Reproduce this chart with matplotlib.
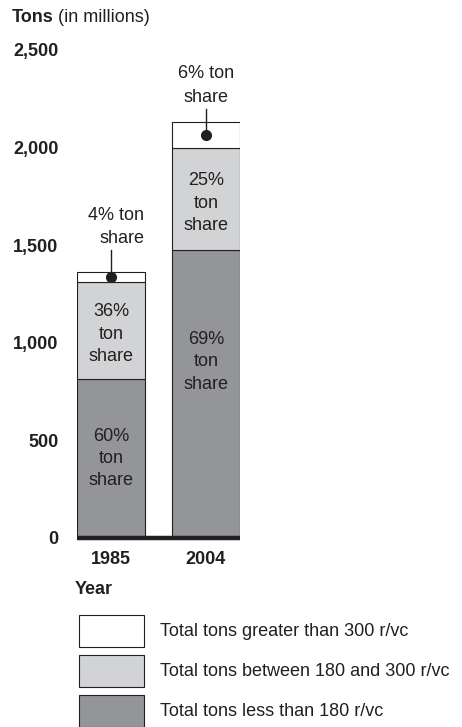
import matplotlib
matplotlib.use("Agg")
import matplotlib.pyplot as plt
from matplotlib.patches import Rectangle

plt.rcParams['font.family'] = ['Liberation Sans', 'DejaVu Sans']

years = ["1985", "2004"]
low = [816, 1474]        # < 180 r/vc
mid = [497, 524]         # 180-300 r/vc
high = [51, 131]         # > 300 r/vc
low_lbl = ["60%\nton\nshare", "69%\nton\nshare"]
mid_lbl = ["36%\nton\nshare", "25%\nton\nshare"]
high_lbl = ["4% ton\nshare", "6% ton\nshare"]
yticks = [0, 500, 1000, 1500, 2000, 2500]
ytick_labels = ["0", "500", "1,000", "1,500", "2,000", "2,500"]
legend_labels = ["Total tons greater than 300 r/vc",
                 "Total tons between 180 and 300 r/vc",
                 "Total tons less than 180 r/vc"]

C_DARK = "#939598"
C_LIGHT = "#d1d3d4"
C_WHITE = "#ffffff"
C_INK = "#231f20"
FS = 13

W, H = 462, 727
fig = plt.figure(figsize=(W / 100, H / 100), dpi=100)

def fx(px):
    return px / W

def fy(py):
    return 1 - py / H

ax = fig.add_axes([fx(77), fy(538), fx(240) - fx(77), fy(50) - fy(538)])
x = [0, 1]
bw = 0.72
ax.bar(x, low, bw, color=C_DARK, edgecolor=C_INK, linewidth=0.8)
ax.bar(x, mid, bw, bottom=low, color=C_LIGHT, edgecolor=C_INK, linewidth=0.8)
bot2 = [a + b for a, b in zip(low, mid)]
ax.bar(x, high, bw, bottom=bot2, color=C_WHITE, edgecolor=C_INK, linewidth=0.8)
ax.set_xlim(-0.36, 1.36)
ax.set_ylim(0, 2500)
for s in ax.spines.values():
    s.set_visible(False)
ax.axhline(0, color=C_INK, linewidth=3.2, solid_capstyle='butt', clip_on=False)
ax.set_yticks(yticks)
ax.set_yticklabels(ytick_labels, fontsize=FS, fontweight='bold', color=C_INK)
ax.set_xticks(x)
ax.set_xticklabels(years, fontsize=FS, fontweight='bold', color=C_INK)
ax.tick_params(axis='y', length=0, pad=13.5)
ax.tick_params(axis='x', length=0, pad=9)

LS = 1.4
# segment labels
ax.text(0, low[0] / 2, low_lbl[0], ha='center', va='center', fontsize=FS,
        color=C_INK, linespacing=LS)
ax.text(1, 902, low_lbl[1], ha='center', va='center', fontsize=FS,
        color=C_INK, linespacing=LS)
for i in range(2):
    ax.text(x[i], low[i] + mid[i] / 2 - 20, mid_lbl[i], ha='center', va='center',
            fontsize=FS, color=C_INK, linespacing=LS)

# leader annotations for top segment
for i in range(2):
    yc = bot2[i] + high[i] / 2
    ytop = yc + 135
    ax.plot([x[i], x[i]], [yc, ytop], color=C_INK, linewidth=1.0, clip_on=False)
    ax.plot([x[i]], [yc], 'o', color=C_INK, markersize=7, clip_on=False)
    if i == 0:
        ax.text(0.35, ytop + 16, high_lbl[0], ha='right', va='bottom', fontsize=FS,
                color=C_INK, linespacing=1.5, multialignment='right')
    else:
        ax.text(1, ytop + 16, high_lbl[1], ha='center', va='bottom', fontsize=FS,
                color=C_INK, linespacing=1.5, multialignment='center')

# titles
t1 = fig.text(fx(12), fy(18), "Tons", fontsize=FS, fontweight='bold',
              color=C_INK, ha='left', va='center')
fig.canvas.draw()
bb = t1.get_window_extent()
fig.text(bb.x1 / W + fx(4), fy(18), "(in millions)", fontsize=FS,
         color=C_INK, ha='left', va='center')
fig.text(fx(75), fy(589), "Year", fontsize=FS, fontweight='bold', color=C_INK,
         ha='left', va='center')

# legend
colors = [C_WHITE, C_LIGHT, C_DARK]
box_tops = [615, 655, 695]
text_y = [632, 672, 711]
for c, bt, ty, lab in zip(colors, box_tops, text_y, legend_labels):
    fig.patches.append(Rectangle((fx(79), fy(bt + 32)), fx(65), fy(bt) - fy(bt + 32),
                                 transform=fig.transFigure, facecolor=c,
                                 edgecolor=C_INK, linewidth=0.8))
    fig.text(fx(160), fy(ty), lab, fontsize=FS, color=C_INK, ha='left', va='center')

fig.savefig("out.png", dpi=100)
